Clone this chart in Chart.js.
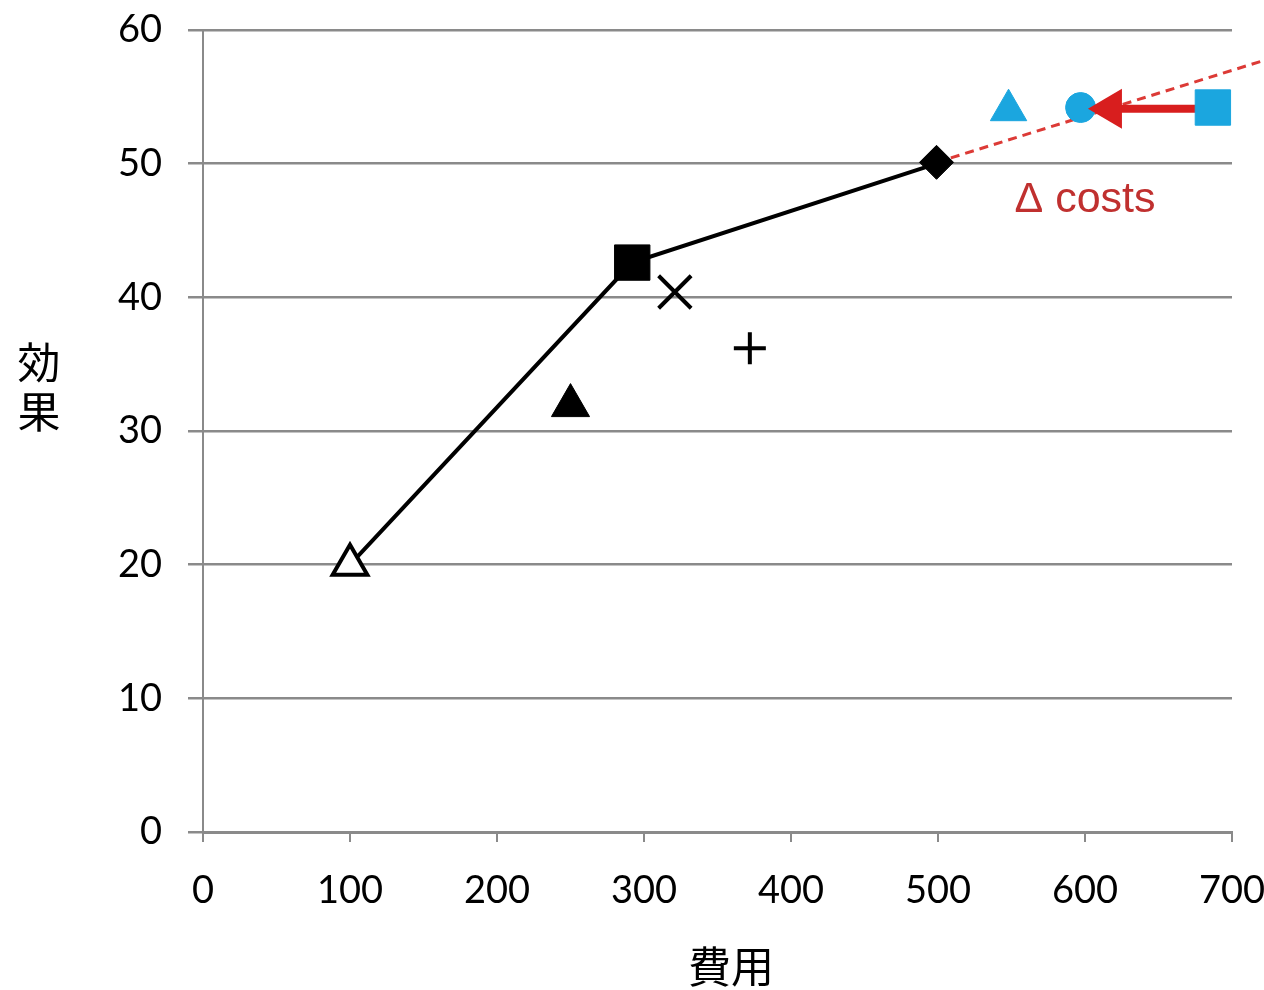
<!DOCTYPE html>
<html><head><meta charset="utf-8">
<script src="https://cdn.jsdelivr.net/npm/chart.js@4"></script>
<style>html,body{margin:0;padding:0;background:#fff;}#wrap{width:1264px;height:990px;}</style>
</head><body><div id="wrap"><canvas id="c"></canvas></div>
<script>
const xTicks = [0,100,200,300,400,500,600,700];
const yTicks = [0,10,20,30,40,50,60];
const xTitle = '費用';
const yTitle = ['効','果'];
const frontier = [{x:100,y:20},{x:292,y:42.6},{x:499,y:50}];
const openTriangle = [{x:100,y:20}];
const filledTriangle = [{x:250,y:31.9}];
const filledSquare = [{x:292,y:42.6}];
const crossRot = [{x:321,y:40.4}];
const crossPlus = [{x:372,y:36.2}];
const diamond = [{x:499,y:50.1}];
const blueTriangle = [{x:548,y:54}];
const blueCircle = [{x:597,y:54.2}];
const blueSquare = [{x:687,y:54.2}];
const dashedExt = [{x:499,y:50.1},{x:721,y:57.7}];
const arrow = [{x:676,y:54.1},{x:602,y:54.1}];
const annoText = 'Δ costs';
const annoPos = {x:600,y:47.3};

const BLUE = '#1ba6df', RED = '#d81e1e', GRID = '#8a8a8a';

function pt(data, style, r, bg, border, bw){
  return {type:'scatter', data, pointStyle:style, pointRadius:r, pointHoverRadius:r,
    backgroundColor:bg, borderColor:border, borderWidth:bw, pointBorderWidth:bw, showLine:false, clip:false};
}

const overlay = {
  id:'overlay',
  afterDatasetsDraw(chart){
    const ctx = chart.ctx, xs = chart.scales.x, ys = chart.scales.y;
    const a1 = arrow[1];
    const x1 = xs.getPixelForValue(a1.x), y1 = ys.getPixelForValue(a1.y);
    ctx.save();
    ctx.fillStyle = RED;
    ctx.beginPath();
    ctx.moveTo(x1, y1);
    ctx.lineTo(x1+34, y1-20);
    ctx.lineTo(x1+34, y1+20);
    ctx.closePath();
    ctx.fill();
    ctx.fillStyle = '#c0302f';
    ctx.font = '43px "Liberation Sans", Arial, sans-serif';
    ctx.textAlign = 'center'; ctx.textBaseline = 'middle';
    ctx.fillText(annoText, xs.getPixelForValue(annoPos.x), ys.getPixelForValue(annoPos.y));
    ctx.fillStyle = '#000';
    ctx.font = '400 43px "Noto Sans CJK JP", sans-serif';
    ctx.fillText(yTitle[0], 39, 363);
    ctx.fillText(yTitle[1], 39, 412);
    ctx.fillText(xTitle, 731, 967);
    ctx.restore();
  }
};

new Chart(document.getElementById('c'), {
  type:'scatter',
  data:{datasets:[
    {type:'line', data:frontier, borderColor:'#000', borderWidth:4, pointRadius:0, fill:false, tension:0, order:5},
    {type:'line', data:dashedExt, borderColor:'#dc3a36', borderWidth:3, borderDash:[9,6], pointRadius:0, fill:false, clip:false, order:5},
    {type:'line', data:arrow, borderColor:RED, borderWidth:8, pointRadius:0, fill:false, order:1},
    pt(openTriangle,'triangle',20,'#fff','#000',4),
    pt(filledTriangle,'triangle',22,'#000','#000',1),
    pt(filledSquare,'rect',25,'#000','#000',1),
    pt(crossRot,'crossRot',23,'#000','#000',4),
    pt(crossPlus,'cross',16,'#000','#000',4),
    pt(diamond,'rectRot',17,'#000','#000',1),
    pt(blueTriangle,'triangle',21,BLUE,BLUE,1),
    pt(blueCircle,'circle',15,BLUE,BLUE,1),
    pt(blueSquare,'rect',25,BLUE,BLUE,1)
  ]},
  options:{
    responsive:true, maintainAspectRatio:false, animation:false,
    layout:{autoPadding:false, padding:{top:30,right:32,left:0,bottom:0}},
    plugins:{legend:{display:false}, tooltip:{enabled:false}},
    scales:{
      x:{type:'linear', min:0, max:700,
        afterBuildTicks(s){ s.ticks = xTicks.map(v=>({value:v})); },
        afterFit(s){ s.height = 158; s.paddingLeft = 0; s.paddingRight = 0; },
        grid:{drawOnChartArea:false, drawTicks:true, tickLength:10, color:GRID, lineWidth:2},
        border:{display:true, color:GRID, width:3},
        ticks:{color:'#000', font:{family:'Lato', size:38}, padding:26}
      },
      y:{type:'linear', min:0, max:60,
        afterBuildTicks(s){ s.ticks = yTicks.map(v=>({value:v})); },
        afterFit(s){ s.width = 203; s.paddingTop = 0; s.paddingBottom = 0; },
        grid:{drawOnChartArea:true, drawTicks:true, tickLength:15, color:GRID, lineWidth:2.5},
        border:{display:true, color:GRID, width:2},
        ticks:{color:'#000', font:{family:'Lato', size:38}, padding:26}
      }
    }
  },
  plugins:[overlay]
});
</script></body></html>
